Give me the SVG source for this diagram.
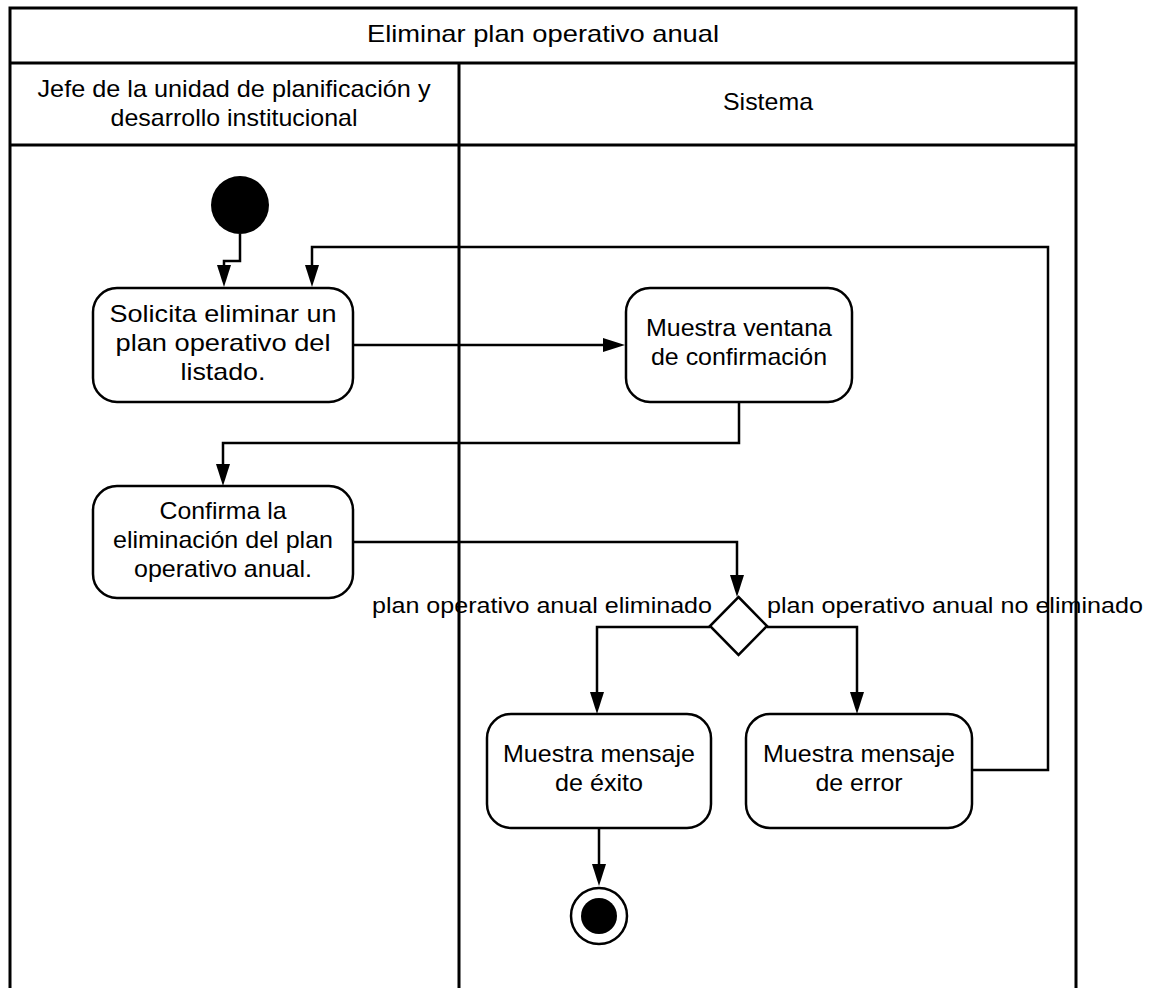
<svg xmlns="http://www.w3.org/2000/svg" width="1151" height="988" viewBox="0 0 1151 988">
<defs>
<marker id="arr" markerUnits="userSpaceOnUse" markerWidth="22" markerHeight="14" refX="12" refY="7" orient="auto">
<path d="M0,0 L22,7 L0,14 z" fill="#000"/>
</marker>
<style>
text{font-family:"Liberation Sans",Arial,sans-serif;fill:#000;}
.t{font-size:24px;text-anchor:middle;}
.lbl{font-size:22px;}
.frame{fill:none;stroke:#000;stroke-width:3;}
.box{fill:#fff;stroke:#000;stroke-width:2.5;}
.edge{fill:none;stroke:#000;stroke-width:2.5;marker-end:url(#arr);}
</style>
</defs>
<rect width="1151" height="988" fill="#fff"/>
<g id="swimlanes">
<path class="frame" d="M10,995 V8 H1076 V995"/>
<path class="frame" d="M10,63 H1076 M10,145 H1076 M459,63 V995"/>
<text class="t" x="543" y="42" textLength="352" lengthAdjust="spacingAndGlyphs">Eliminar plan operativo anual</text>
<text class="t" x="234" y="97" textLength="393" lengthAdjust="spacingAndGlyphs">Jefe de la unidad de planificación y</text>
<text class="t" x="234" y="126" textLength="247" lengthAdjust="spacingAndGlyphs">desarrollo institucional</text>
<text class="t" x="768" y="110" textLength="90" lengthAdjust="spacingAndGlyphs">Sistema</text>
</g>
<g id="connectors">
<path class="edge" d="M240,234 V261 H224 V277"/>
<path class="edge" d="M972,770 H1048 V247 H312 V277"/>
<path class="edge" d="M353,345 H615"/>
<path class="edge" d="M739,402 V443 H223 V476"/>
<path class="edge" d="M353,542 H737 V587"/>
<path class="edge" d="M710,627 H597 V704"/>
<path class="edge" d="M767,627 H857 V704"/>
<path class="edge" d="M599,828 V876"/>
<text class="lbl" x="712" y="613" text-anchor="end" textLength="340" lengthAdjust="spacingAndGlyphs">plan operativo anual eliminado</text>
<text class="lbl" x="767" y="613" textLength="376" lengthAdjust="spacingAndGlyphs">plan operativo anual no eliminado</text>
</g>
<g id="start">
<circle cx="240" cy="205" r="29" fill="#000"/>
</g>
<g id="solicita">
<rect class="box" x="93" y="288" width="260" height="114" rx="24"/>
<text class="t" x="223" y="322" textLength="227" lengthAdjust="spacingAndGlyphs">Solicita eliminar un</text>
<text class="t" x="223" y="351" textLength="215" lengthAdjust="spacingAndGlyphs">plan operativo del</text>
<text class="t" x="223" y="380" textLength="85" lengthAdjust="spacingAndGlyphs">listado.</text>
</g>
<g id="ventana">
<rect class="box" x="626" y="288" width="226" height="114" rx="24"/>
<text class="t" x="739" y="336" textLength="186" lengthAdjust="spacingAndGlyphs">Muestra ventana</text>
<text class="t" x="739" y="365" textLength="176" lengthAdjust="spacingAndGlyphs">de confirmación</text>
</g>
<g id="confirma">
<rect class="box" x="93" y="486" width="260" height="112" rx="24"/>
<text class="t" x="223" y="519" textLength="127" lengthAdjust="spacingAndGlyphs">Confirma la</text>
<text class="t" x="223" y="548" textLength="220" lengthAdjust="spacingAndGlyphs">eliminación del plan</text>
<text class="t" x="223" y="577" textLength="178" lengthAdjust="spacingAndGlyphs">operativo anual.</text>
</g>
<g id="decision">
<polygon class="box" points="738.5,597 767,626 738.5,655 710,626"/>
</g>
<g id="exito">
<rect class="box" x="487" y="714" width="224" height="114" rx="24"/>
<text class="t" x="599" y="762" textLength="192" lengthAdjust="spacingAndGlyphs">Muestra mensaje</text>
<text class="t" x="599" y="791" textLength="88" lengthAdjust="spacingAndGlyphs">de éxito</text>
</g>
<g id="error">
<rect class="box" x="746" y="714" width="226" height="114" rx="24"/>
<text class="t" x="859" y="762" textLength="192" lengthAdjust="spacingAndGlyphs">Muestra mensaje</text>
<text class="t" x="859" y="791" textLength="87" lengthAdjust="spacingAndGlyphs">de error</text>
</g>
<g id="end">
<circle cx="599" cy="916" r="28" fill="#fff" stroke="#000" stroke-width="2.5"/>
<circle cx="599" cy="916" r="18" fill="#000"/>
</g>
</svg>
